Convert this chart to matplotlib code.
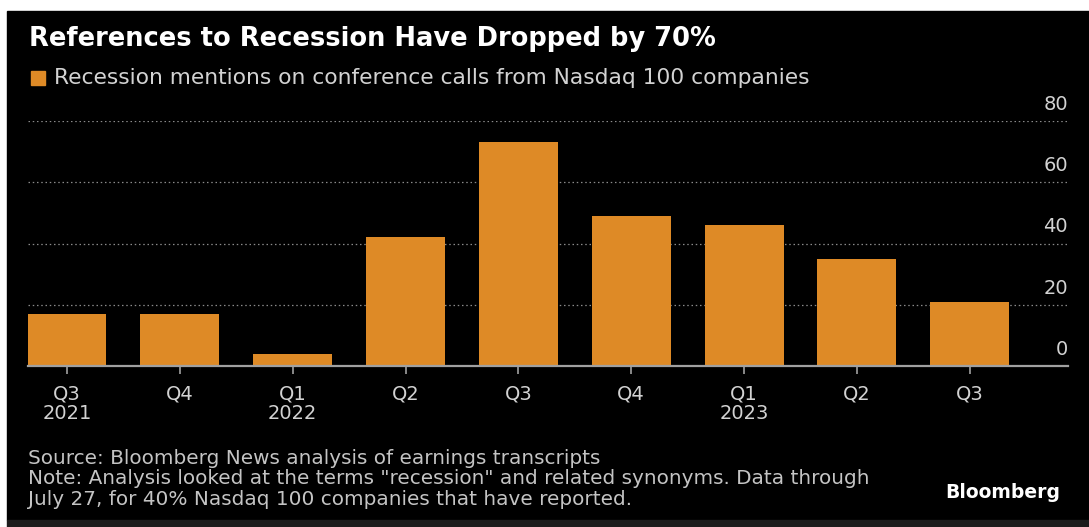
import matplotlib
matplotlib.use("Agg")
import matplotlib.pyplot as plt
from matplotlib.patches import Rectangle
from matplotlib.transforms import ScaledTranslation

# Recession mentions on Nasdaq 100 conference calls, by quarter
quarters = ["Q3\n2021", "Q4", "Q1\n2022", "Q2", "Q3", "Q4", "Q1\n2023", "Q2", "Q3"]
mentions = [17, 17, 4, 42, 73, 49, 46, 35, 21]
y_ticks = [0, 20, 40, 60, 80]

BG = "#000000"
BAR = "#DE8A26"
TXT = "#d2d2d2"
GRID = "#8a8a8a"
FONT = "DejaVu Sans"

W, H = 1089, 527
fig = plt.figure(figsize=(W / 100, H / 100), dpi=100)
fig.patch.set_facecolor("white")


def fy(px):
    """pixel row from the top -> figure fraction"""
    return 1 - px / H


# dark panel, thin white margin top/left, grey strip along the bottom
fig.add_artist(Rectangle((7 / W, fy(520)), 1 - 7 / W, (520 - 11) / H,
                         transform=fig.transFigure, color=BG, zorder=0))
fig.add_artist(Rectangle((7 / W, 0), 1 - 7 / W, 7 / H,
                         transform=fig.transFigure, color="#1c1c1c", zorder=0))

ax = fig.add_axes([28 / W, fy(366), (1068 - 28) / W, (366 - 121) / H])
ax.set_facecolor(BG)

x = range(len(quarters))
ax.bar(x, mentions, width=0.7, color=BAR, zorder=2)

ax.set_xlim(-0.345, len(quarters) - 1 + 0.87)
ax.set_ylim(0, 80)

for s in ("top", "right", "left"):
    ax.spines[s].set_visible(False)
ax.spines["bottom"].set_color("#a0a0a0")
ax.spines["bottom"].set_linewidth(1.6)
ax.spines["bottom"].set_zorder(3)

ax.set_xticks(list(x))
ax.set_xticklabels(quarters)
ax.tick_params(axis="x", colors="#a0a0a0", length=6, width=1.2, pad=7,
               labelcolor=TXT, labelsize=14)
for lab in ax.get_xticklabels():
    lab.set_family(FONT)
    lab.set_linespacing(1.05)

ax.yaxis.tick_right()
ax.set_yticks(y_ticks)
ax.set_yticklabels([str(v) for v in y_ticks])
ax.tick_params(axis="y", length=0, pad=0, labelcolor=TXT, labelsize=14)
offset = ScaledTranslation(0, 8 / 72, fig.dpi_scale_trans)
for lab in ax.get_yticklabels():
    lab.set_family(FONT)
    lab.set_horizontalalignment("right")
    lab.set_verticalalignment("baseline")
    lab.set_transform(lab.get_transform() + offset)

ax.grid(axis="y", color=GRID, linestyle=(0, (1.2, 2.2)), linewidth=0.9, zorder=1)
ax.grid(axis="x", visible=False)

# header
fig.text(29 / W, fy(46), "References to Recession Have Dropped by 70%",
         color="white", fontsize=18.5, fontweight="bold", family=FONT,
         va="baseline", ha="left")
fig.add_artist(Rectangle((31 / W, fy(85)), 14 / W, 14 / H,
                         transform=fig.transFigure, color=BAR))
fig.text(54 / W, fy(84),
         "Recession mentions on conference calls from Nasdaq 100 companies",
         color=TXT, fontsize=15.7, family=FONT, va="baseline", ha="left")

# footer
notes = ['Source: Bloomberg News analysis of earnings transcripts',
         'Note: Analysis looked at the terms "recession" and related synonyms. Data through',
         'July 27, for 40% Nasdaq 100 companies that have reported.']
for i, line in enumerate(notes):
    fig.text(28 / W, fy(464 + 20.5 * i), line, color="#c4c4c4",
             fontsize=14.4, family=FONT, va="baseline", ha="left")
fig.text(1060 / W, fy(498), "Bloomberg", color="white", fontsize=13.5,
         fontweight="bold", family=FONT, va="baseline", ha="right")

fig.savefig("out.png", dpi=100, facecolor=fig.get_facecolor())
